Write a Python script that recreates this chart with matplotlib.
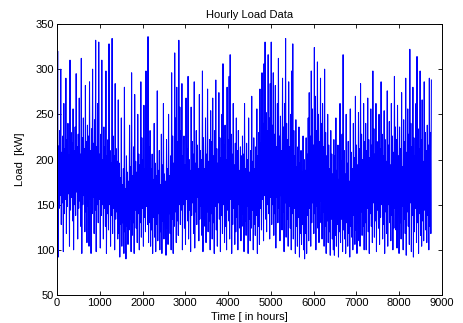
import numpy as np
import matplotlib
matplotlib.use("Agg")
import matplotlib.pyplot as plt

# Daily peak load [kW] (365 days)
daily_max = [
    320, 215, 232, 300, 208, 226, 262, 212, 290, 222, 240, 205, 310, 230, 218, 256, 210, 236, 295, 214, 228, 268, 206, 312, 224, 246, 212, 282, 220, 238,
    226, 286, 210, 234, 300, 218, 244, 332, 214, 262, 330, 206, 228, 310, 200, 236, 214, 298, 204, 222, 328, 210, 196, 334, 226, 204, 284, 212, 198, 266,
    196, 180, 246, 172, 190, 280, 168, 204, 186, 176, 238, 192, 296, 182, 214, 272, 198, 186, 250, 206, 194, 286, 224, 200, 260, 190, 298, 232, 336, 214,
    232, 190, 206, 178, 240, 196, 182, 276, 188, 210, 172, 228, 194, 262, 184, 176, 222, 190, 250, 182, 204, 296, 226, 196, 318, 246, 280, 220, 332, 258,
    232, 284, 204, 226, 194, 268, 212, 292, 200, 188, 258, 220, 206, 286, 196, 232, 216, 190, 272, 210, 200, 298, 224, 190, 246, 206, 278, 198, 222, 254,
    220, 268, 204, 232, 288, 212, 196, 274, 224, 202, 250, 306, 216, 238, 200, 280, 222, 292, 316, 228, 206, 262, 194, 218, 246, 210, 232, 188, 214, 204,
    226, 206, 262, 190, 218, 200, 246, 186, 210, 270, 198, 224, 190, 214, 256, 204, 230, 278, 218, 296, 240, 306, 330, 252, 232, 316, 246, 284, 330, 238,
    296, 228, 282, 214, 262, 312, 226, 248, 210, 290, 236, 262, 334, 240, 222, 286, 214, 250, 298, 328, 232, 204, 244, 192, 214, 236, 196, 210, 186, 226,
    200, 188, 224, 206, 246, 274, 226, 298, 256, 216, 324, 270, 232, 308, 250, 220, 290, 240, 262, 214, 300, 230, 204, 250, 216, 190, 232, 206, 184, 222,
    204, 246, 188, 216, 178, 262, 198, 228, 316, 210, 184, 250, 196, 220, 176, 256, 208, 190, 240, 202, 270, 216, 194, 252, 212, 284, 228, 200, 262, 220,
    240, 210, 268, 222, 202, 256, 216, 298, 234, 206, 262, 220, 192, 250, 212, 286, 228, 204, 254, 222, 198, 276, 216, 242, 194, 262, 226, 208, 292, 236,
    222, 260, 204, 236, 212, 274, 192, 244, 220, 290, 208, 256, 228, 322, 240, 214, 280, 224, 204, 262, 314, 234, 212, 298, 222, 266, 198, 286, 230, 210,
    238, 216, 290, 230, 288,
]

# Daily minimum load [kW]
daily_min = [
    150, 92, 146, 160, 128, 152, 98, 140, 156, 118, 148, 162, 104, 144, 158, 132, 100, 150, 138, 164, 112, 146, 154, 126, 96, 150, 160, 120, 142, 108,
    148, 104, 156, 96, 140, 158, 118, 144, 98, 150, 130, 156, 102, 138, 150, 112, 146, 126, 96, 140, 122, 150, 104, 138, 118, 146, 100, 134, 142, 112,
    118, 92, 128, 104, 130, 96, 120, 90, 126, 106, 122, 134, 98, 116, 130, 96, 144, 124, 108, 140, 100, 130, 114, 146, 104, 136, 120, 148, 128, 108,
    130, 104, 122, 96, 136, 114, 98, 128, 110, 140, 100, 120, 96, 132, 112, 136, 94, 124, 106, 140, 118, 100, 134, 96, 126, 142, 108, 132, 116, 150,
    128, 144, 100, 150, 124, 106, 156, 132, 112, 144, 98, 138, 152, 118, 102, 142, 128, 158, 110, 134, 148, 116, 98, 152, 126, 108, 142, 120, 132, 100,
    140, 112, 130, 96, 148, 122, 104, 152, 134, 98, 138, 118, 150, 108, 126, 100, 144, 132, 112, 156, 96, 128, 146, 106, 120, 136, 100, 150, 124, 110,
    126, 140, 98, 132, 116, 148, 96, 134, 110, 124, 144, 100, 128, 116, 138, 96, 126, 106, 146, 122, 156, 110, 160, 134, 120, 150, 140, 112, 158, 128,
    150, 116, 140, 102, 158, 130, 146, 110, 160, 122, 142, 98, 152, 114, 134, 104, 148, 124, 100, 140, 112, 146, 96, 126, 104, 136, 92, 118, 106, 128,
    100, 90, 118, 96, 138, 110, 146, 104, 130, 152, 118, 140, 100, 148, 124, 108, 154, 130, 112, 142, 104, 126, 96, 132, 108, 120, 94, 134, 112, 100,
    94, 116, 104, 128, 92, 120, 108, 134, 98, 122, 112, 96, 130, 104, 118, 92, 126, 114, 100, 138, 106, 122, 96, 130, 110, 104, 142, 116, 126, 100,
    130, 100, 146, 120, 96, 140, 126, 108, 152, 114, 132, 98, 144, 124, 106, 136, 150, 112, 128, 96, 142, 118, 104, 150, 130, 110, 138, 100, 124, 146,
    122, 102, 140, 96, 130, 112, 148, 100, 134, 118, 94, 142, 126, 106, 152, 98, 138, 92, 120, 146, 108, 130, 96, 140, 116, 104, 132, 110, 144, 122,
    108, 138, 100, 126, 118,
]

x_ticks = [0, 1000, 2000, 3000, 4000, 5000, 6000, 7000, 8000, 9000]
y_ticks = [50, 100, 150, 200, 250, 300, 350]

# Build the trace: each day goes from its minimum (early hours) to its peak
days = np.arange(len(daily_max))
hours = np.column_stack([days * 24 + 4, days * 24 + 16]).ravel()
load = np.column_stack([daily_min, daily_max]).ravel()

plt.rcParams['font.family'] = ['Liberation Sans', 'DejaVu Sans']

fig = plt.figure(figsize=(4.64, 3.23), dpi=100)
ax = fig.add_axes([57 / 464, 28 / 323, 385 / 464, 271 / 323])
ax.plot(hours, load, color='#0000ff', linewidth=0.75)

ax.set_xlim(0, 9000)
ax.set_ylim(50, 350)
ax.set_xticks(x_ticks)
ax.set_yticks(y_ticks)
ax.tick_params(direction='in', top=True, right=True, length=3, width=0.6,
               labelsize=8, pad=2)
for s in ax.spines.values():
    s.set_linewidth(0.7)

ax.set_title("Hourly Load Data", fontsize=8, pad=4)
ax.set_xlabel("Time [ in hours]", fontsize=8, labelpad=3)
ax.set_ylabel("Load  [kW]", fontsize=8, labelpad=8)

fig.savefig("out.png", dpi=100)
